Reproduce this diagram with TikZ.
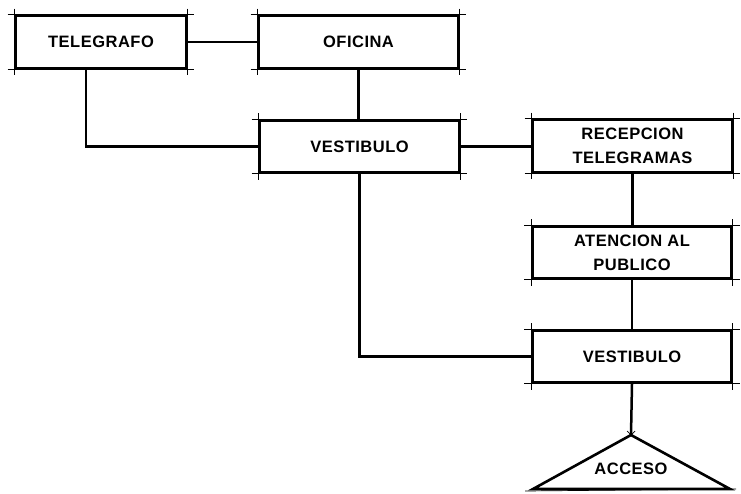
\documentclass[tikz,border=0pt]{standalone}
\usepackage{fontspec}
\newfontfamily\lab{Liberation Sans}[LetterSpace=3]
\usetikzlibrary{calc}
\begin{document}
\begin{tikzpicture}[x=1pt,y=-1pt,
  box/.style={draw,line width=2.6pt,inner sep=0pt,minimum width=199pt,minimum height=52pt,
    font=\lab\bfseries\fontsize{16.5}{24}\selectfont,align=center},
  conn/.style={line width=2.5pt},
  tick/.style={line width=0.7pt}]
\useasboundingbox (0,0) rectangle (741,494);
\node[box,minimum width=170pt] (tel) at (101,42) {TELEGRAFO};
\node[box] (ofi) at (358.5,42) {OFICINA};
\node[box] (ves1) at (359.5,146.5) {VESTIBULO};
\node[box] (rec) at (632.5,146) {RECEPCION\\TELEGRAMAS};
\node[box] (ate) at (632,252.5) {ATENCION AL\\PUBLICO};
\node[box] (ves2) at (632,356.5) {VESTIBULO};
% corner ticks
\foreach \n in {tel,ofi,ves1,rec,ate,ves2}{
  \draw[tick] ($(\n.north west)+(-7,0)$) -- ($(\n.north east)+(7,0)$);
  \draw[tick] ($(\n.south west)+(-7,0)$) -- ($(\n.south east)+(7,0)$);
  \draw[tick] ($(\n.north west)+(0,-6)$) -- ($(\n.south west)+(0,6)$);
  \draw[tick] ($(\n.north east)+(0,-6)$) -- ($(\n.south east)+(0,6)$);
}
% access triangle
\coordinate (acctop) at (631,435);
\coordinate (accl) at (533,489);
\coordinate (accr) at (730,489);
\draw[line width=2.6pt,line join=miter] (acctop) -- (accl) -- (accr) -- cycle;
\draw[tick] ($(accl)+(-8,2)$) -- ($(accr)+(6,0)$);
\draw[tick] ($(acctop)+(-4,-4)$) -- ($(acctop)+(0,0)$) -- ($(acctop)+(4,-4)$);
\node[font=\lab\bfseries\fontsize{16.5}{24}\selectfont] (acc) at (631,469) {ACCESO};
% connectors
\draw[conn] (tel.east) -- (ofi.west);
\draw[conn] (ofi.south) -- (ves1.north -| ofi.south);
\draw[conn] ($(tel.south)+(-15,0)$) |- (ves1.west);
\draw[conn] (ves1.east) -- (ves1.east -| rec.west);
\draw[conn] (rec.south) -- (ate.north -| rec.south);
\draw[conn] (ate.south) -- (ves2.north);
\draw[conn] (ves1.south) |- (ves2.west);
\draw[conn] (ves2.south) -- (acctop);
\end{tikzpicture}
\end{document}
